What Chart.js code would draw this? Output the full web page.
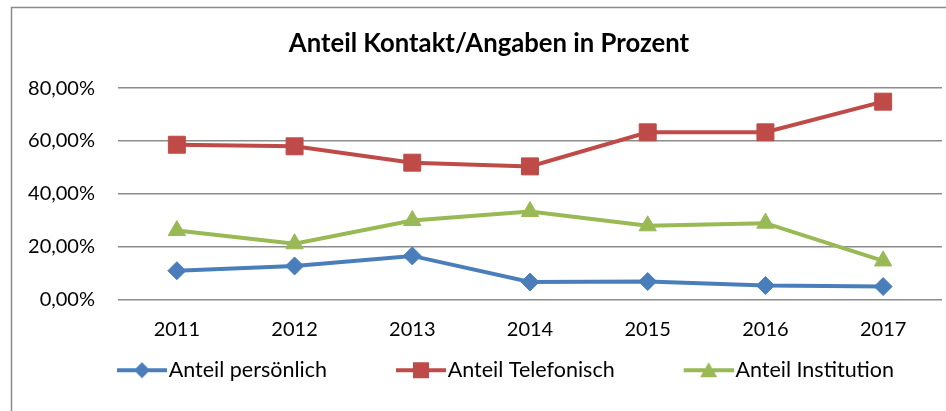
<!DOCTYPE html>
<html>
<head>
<meta charset="utf-8">
<script src="https://cdn.jsdelivr.net/npm/chart.js@4"></script>
<style>
  html, body { margin: 0; padding: 0; background: #fff; }
  #wrap { width: 946px; height: 411px; }
</style>
</head>
<body>
<div id="wrap"><canvas id="chart" width="946" height="411"></canvas></div>
<script>
// data (percent)
const years = ['2011', '2012', '2013', '2014', '2015', '2016', '2017'];
const persoenlich = [10.9, 12.7, 16.5, 6.6, 6.8, 5.3, 4.9];
const telefonisch = [58.6, 58.0, 51.8, 50.4, 63.3, 63.3, 74.9];
const institution = [26.1, 21.1, 29.9, 33.3, 27.9, 28.9, 14.6];
const yTicks = [0, 20, 40, 60, 80];

const FONT = 'Lato, "Open Sans", sans-serif';
const BLUE = '#4a7ebb', RED = '#be4b48', GREEN = '#98b954';
const LEG_SIZE = 21.5;
const LEG_W = 100;                      // legend box width (gives the gap between items)
const ICON_W = LEG_W + LEG_SIZE - 4;    // icon canvas, visible part sits at its right end

// legend symbol: line with marker in the middle, right-aligned in a wider transparent canvas
function legendIcon(color, shape) {
  const c = document.createElement('canvas');
  c.width = Math.round(ICON_W); c.height = 18;
  const g = c.getContext('2d');
  const x0 = c.width - 50, m = x0 + 25;
  g.strokeStyle = color; g.fillStyle = color; g.lineWidth = 4;
  g.beginPath(); g.moveTo(x0, 9); g.lineTo(x0 + 50, 9); g.stroke();
  g.beginPath();
  if (shape === 'diamond') {
    g.moveTo(m, 1); g.lineTo(m + 8, 9); g.lineTo(m, 17); g.lineTo(m - 8, 9);
  } else if (shape === 'square') {
    g.rect(m - 8, 1, 16, 16);
  } else {
    g.moveTo(m, 1); g.lineTo(m + 8.5, 16); g.lineTo(m - 8.5, 16);
  }
  g.closePath(); g.fill();
  return c;
}

// outer chart border (Excel style frame, runs off the picture right and bottom)
const frame = {
  id: 'frame',
  afterLayout(chart) {
    // title sits a bit right of the canvas centre in the original
    chart.titleBlock.left += 13;
    chart.titleBlock.right += 13;
  },
  beforeDraw(chart) {
    const ctx = chart.ctx;
    ctx.save();
    ctx.strokeStyle = '#8a8a8a';
    ctx.lineWidth = 1.5;
    ctx.beginPath();
    ctx.moveTo(11.5, 420); ctx.lineTo(11.5, 7.5); ctx.lineTo(960, 7.5);
    ctx.stroke();
    ctx.restore();
  }
};

function ds(label, data, color, style, radius, shape) {
  return {
    label, data,
    borderColor: color, backgroundColor: color,
    borderWidth: 4,
    pointStyle: style, pointRadius: radius, pointHoverRadius: radius,
    pointBackgroundColor: color, pointBorderColor: color, pointBorderWidth: 1,
    tension: 0,
    clip: false,
    icon: legendIcon(color, shape)
  };
}

new Chart(document.getElementById('chart'), {
  type: 'line',
  data: {
    labels: years,
    datasets: [
      ds('Anteil persönlich', persoenlich, BLUE, 'rectRot', 9, 'diamond'),
      ds('Anteil Telefonisch', telefonisch, RED, 'rect', 12, 'square'),
      ds('Anteil Institution', institution, GREEN, 'triangle', 10, 'triangle')
    ]
  },
  options: {
    responsive: false,
    animation: false,
    layout: { autoPadding: false, padding: { top: 31, right: 4, left: 10, bottom: 20 } },
    plugins: {
      tooltip: { enabled: false },
      title: {
        display: true,
        text: 'Anteil Kontakt/Angaben in Prozent',
        color: '#000',
        font: { family: FONT, size: 25.7, weight: 'bold', lineHeight: 1 },
        padding: { top: 0, bottom: 31.5 }
      },
      legend: {
        position: 'bottom',
        labels: {
          usePointStyle: true,
          pointStyleWidth: LEG_W,
          boxHeight: 18,
          padding: 10,
          color: '#000',
          font: { family: FONT, size: LEG_SIZE },
          generateLabels(chart) {
            return chart.data.datasets.map((d, i) => ({
              text: d.label,
              pointStyle: d.icon,
              fillStyle: d.borderColor,
              strokeStyle: d.borderColor,
              lineWidth: 0,
              hidden: false,
              datasetIndex: i
            }));
          }
        }
      }
    },
    scales: {
      x: {
        offset: true,
        afterFit(s) { s.height = 50; s.paddingLeft = 0; s.paddingRight = 0; },
        grid: { display: false, drawTicks: false },
        border: { display: false },
        ticks: { color: '#000', padding: 18, font: { family: FONT, size: 20 } }
      },
      y: {
        min: 0, max: 80,
        afterFit(s) { s.width = 108; },
        afterBuildTicks(s) { s.ticks = yTicks.map(v => ({ value: v })); },
        grid: { color: '#8c8c8c', lineWidth: 1.5, drawTicks: false },
        border: { display: false },
        ticks: {
          color: '#000', padding: 23,
          font: { family: FONT, size: 20 },
          callback: v => v.toFixed(2).replace('.', ',') + '%'
        }
      }
    }
  },
  plugins: [frame]
});
</script>
</body>
</html>
